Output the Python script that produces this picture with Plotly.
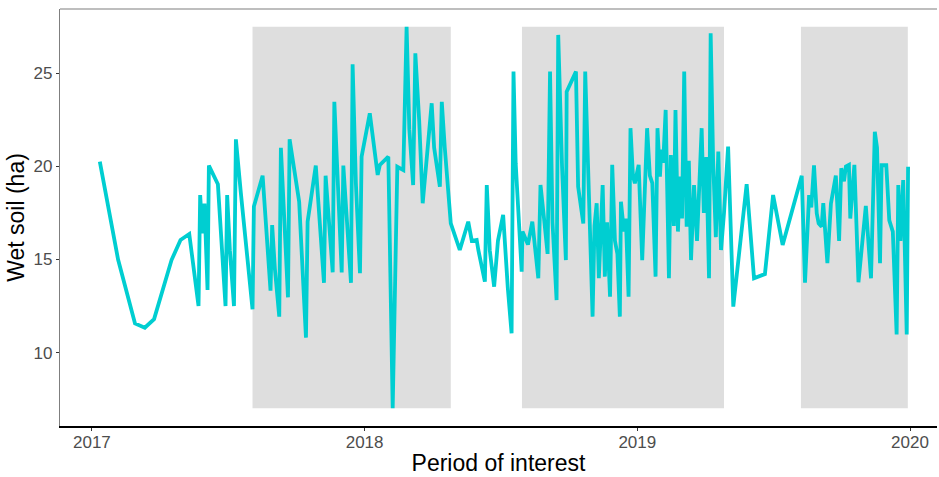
import plotly.graph_objects as go

# Decimal year of each observation
years = [
    2017.029, 2017.096, 2017.158, 2017.194, 2017.228, 2017.292, 2017.325, 2017.357,
    2017.391, 2017.397, 2017.405, 2017.413, 2017.424, 2017.429, 2017.462, 2017.490,
    2017.496, 2017.506, 2017.521, 2017.528, 2017.546, 2017.589, 2017.594, 2017.626,
    2017.655, 2017.661, 2017.671, 2017.687, 2017.693, 2017.719, 2017.725, 2017.760,
    2017.785, 2017.791, 2017.821, 2017.851, 2017.857, 2017.883, 2017.889, 2017.916,
    2017.922, 2017.950, 2017.956, 2017.968, 2017.983, 2017.989, 2018.019, 2018.048,
    2018.056, 2018.087, 2018.103, 2018.120, 2018.142, 2018.154, 2018.164, 2018.178,
    2018.186, 2018.200, 2018.213, 2018.246, 2018.255, 2018.276, 2018.283, 2018.294,
    2018.316, 2018.349, 2018.380, 2018.393, 2018.411, 2018.417, 2018.441, 2018.448,
    2018.459, 2018.475, 2018.489, 2018.508, 2018.525, 2018.539, 2018.546, 2018.554,
    2018.576, 2018.579, 2018.599, 2018.615, 2018.637, 2018.645, 2018.658, 2018.671,
    2018.680, 2018.689, 2018.704, 2018.710, 2018.724, 2018.738, 2018.741, 2018.775,
    2018.783, 2018.802, 2018.809, 2018.823, 2018.836, 2018.843, 2018.851, 2018.859,
    2018.865, 2018.873, 2018.881, 2018.889, 2018.900, 2018.908, 2018.918, 2018.927,
    2018.936, 2018.940, 2018.951, 2018.958, 2018.968, 2018.975, 2018.984, 2018.991,
    2019.005, 2019.018, 2019.036, 2019.046, 2019.055, 2019.067, 2019.074, 2019.083,
    2019.088, 2019.095, 2019.104, 2019.116, 2019.123, 2019.134, 2019.140, 2019.149,
    2019.156, 2019.164, 2019.172, 2019.181, 2019.189, 2019.197, 2019.208, 2019.219,
    2019.236, 2019.244, 2019.253, 2019.263, 2019.269, 2019.278, 2019.288, 2019.297,
    2019.307, 2019.318, 2019.333, 2019.352, 2019.401, 2019.428, 2019.468, 2019.498,
    2019.533, 2019.603, 2019.615, 2019.630, 2019.638, 2019.648, 2019.658, 2019.665,
    2019.676, 2019.682, 2019.697, 2019.710, 2019.728, 2019.740, 2019.748, 2019.758,
    2019.765, 2019.776, 2019.781, 2019.796, 2019.811, 2019.838, 2019.857, 2019.871,
    2019.879, 2019.890, 2019.896, 2019.913, 2019.924, 2019.937, 2019.951, 2019.957,
    2019.965, 2019.975, 2019.981, 2019.988, 2019.993,
]

# Wet soil area (ha)
wet_soil = [
    20.25, 15.0, 11.57, 11.34, 11.8, 14.97, 16.05, 16.37,
    12.5, 18.46, 16.4, 18.0, 13.36, 20.04, 19.04, 12.5,
    18.46, 15.5, 12.5, 21.45, 18.6, 12.33, 17.84, 19.5,
    13.33, 16.85, 14.5, 11.93, 21.0, 12.97, 21.45, 18.1,
    10.8, 17.03, 20.04, 13.75, 19.5, 14.31, 23.47, 14.31,
    20.04, 13.75, 25.48, 19.1, 14.26, 20.52, 22.85, 19.54,
    20.08, 20.52, 7.01, 19.98, 19.8, 27.5, 22.0, 19.0,
    26.07, 22.5, 18.02, 23.39, 21.0, 18.91, 23.47, 21.0,
    16.94, 15.51, 17.03, 16.0, 16.05, 15.51, 13.81, 19.0,
    15.5, 13.54, 16.0, 17.39, 13.5, 11.04, 25.09, 20.17,
    14.35, 16.5, 15.8, 17.03, 13.99, 19.0, 17.2, 15.3,
    25.09, 17.0, 12.82, 27.06, 20.0, 14.97, 24.01, 25.09,
    18.91, 16.94, 25.09, 19.0, 11.93, 16.8, 18.02, 14.0,
    16.5, 19.0, 14.08, 17.0, 13.0, 20.08, 16.0, 15.3,
    11.93, 18.1, 16.5, 17.2, 13.0, 22.05, 19.5, 19.09,
    20.08, 14.97, 22.05, 19.5, 19.1, 14.08, 22.05, 19.45,
    20.9, 20.2, 23.03, 13.99, 20.61, 16.8, 23.03, 16.5,
    19.45, 17.2, 25.09, 16.76, 20.3, 14.97, 19.0, 16.0,
    22.05, 17.5, 20.5, 13.99, 27.15, 20.34, 16.2, 20.8,
    15.51, 17.5, 21.06, 12.47, 19.04, 13.99, 14.22, 18.46,
    15.78, 19.5, 13.75, 18.46, 17.8, 20.06, 17.48, 16.94,
    16.76, 18.02, 14.8, 18.0, 19.5, 16.0, 19.9, 19.2,
    20.0, 20.08, 17.2, 20.08, 13.78, 17.88, 13.99, 21.86,
    21.0, 14.8, 20.06, 20.06, 17.1, 16.5, 10.97, 19.0,
    16.0, 19.27, 15.5, 10.97, 19.98,
]

# Shaded periods of interest (decimal years)
period_start = [2017.589, 2018.577, 2019.600]
period_end = [2018.316, 2019.318, 2019.992]

x_ticks = [2017, 2018, 2019, 2020]
x_tick_labels = ["2017", "2018", "2019", "2020"]
y_ticks = [10, 15, 20, 25]

ymin, ymax = min(wet_soil), max(wet_soil)

fig = go.Figure()

for s, e in zip(period_start, period_end):
    fig.add_shape(type="rect", xref="x", yref="y", x0=s, x1=e, y0=ymin, y1=ymax,
                  fillcolor="#DEDEDE", line=dict(width=0), layer="below")

fig.add_trace(go.Scatter(
    x=years, y=wet_soil, mode="lines",
    line=dict(color="#00CED1", width=3.8),
    showlegend=False,
))

# top border of panel
fig.add_shape(type="line", xref="paper", yref="paper", x0=0, x1=1, y0=1, y1=1,
              line=dict(color="#7F7F7F", width=1.2))

fig.update_layout(
    width=939, height=477,
    margin=dict(l=60, r=2, t=9, b=51),
    paper_bgcolor="white", plot_bgcolor="white",
    font=dict(family="Liberation Sans, Arial, sans-serif"),
    xaxis=dict(
        range=[2016.883, 2020.099],
        tickmode="array", tickvals=x_ticks, ticktext=x_tick_labels,
        showgrid=False, zeroline=False,
        showline=True, linecolor="black", linewidth=1.6,
        ticks="outside", ticklen=3, tickcolor="#333333", tickwidth=1,
        tickfont=dict(size=17, color="#4D4D4D"),
        ticklabelstandoff=-3,
        title=dict(text="Period of interest", font=dict(size=23, color="black"), standoff=4),
        automargin=False,
    ),
    yaxis=dict(
        range=[6.06, 28.45],
        tickmode="array", tickvals=y_ticks,
        showgrid=False, zeroline=False,
        showline=True, linecolor="#7F7F7F", linewidth=1.2,
        ticks="outside", ticklen=3, tickcolor="#333333", tickwidth=1,
        tickfont=dict(size=17, color="#4D4D4D"),
        title=dict(text="Wet soil (ha)", font=dict(size=23, color="black"), standoff=2),
        automargin=False,
    ),
)

fig.write_html("out.html", config={"displayModeBar": False},
               post_script="document.body.style.margin='0';")
